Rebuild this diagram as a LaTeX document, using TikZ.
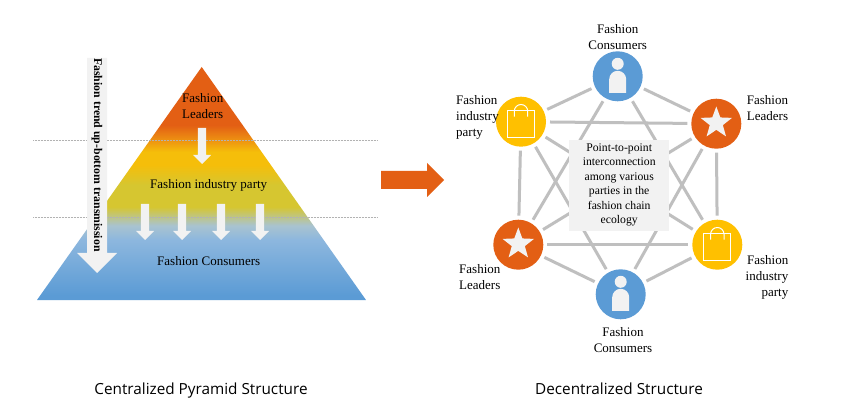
\documentclass[tikz,border=0pt]{standalone}
\usepackage{fontspec}
\setmainfont{Liberation Serif}
\newfontfamily\capfont{Open Sans}
\usetikzlibrary{shapes.geometric}
\definecolor{hub}{HTML}{E35F14}
\definecolor{gold}{HTML}{FFC000}
\definecolor{sky}{HTML}{5B9BD5}
\definecolor{pale}{HTML}{F2F2F2}
\definecolor{linkgray}{HTML}{BFBFBF}
\definecolor{fadeA}{HTML}{8DB7DE}
\definecolor{fadeB}{HTML}{A9C3CF}
\definecolor{fadeC}{HTML}{D6C630}
\definecolor{fadeD}{HTML}{F5BE0A}
\definecolor{fadeE}{HTML}{EC8A12}
\pgfdeclareverticalshading{pyramidfade}{100bp}{
 color(0bp)=(sky);
 color(26bp)=(sky);
 color(38bp)=(fadeA);
 color(41bp)=(fadeB);
 color(45bp)=(fadeC);
 color(49.7bp)=(fadeC);
 color(54bp)=(fadeD);
 color(56.8bp)=(fadeD);
 color(59.8bp)=(fadeE);
 color(62.5bp)=(hub);
 color(75bp)=(hub);
 color(100bp)=(hub)}
\newcommand{\downarrowpath}[6]{(#1-#4,#2) -- (#1+#4,#2) -- (#1+#4,#3) -- (#1+#5,#3) -- (#1,#6) -- (#1-#5,#3) -- (#1-#4,#3) -- cycle}
\tikzset{
 x=1pt,y=-1pt,
 every node/.style={font=\fontsize{13}{16}\selectfont,inner sep=0pt},
 hubnode/.style={circle,minimum size=50pt,inner sep=0pt},
 link/.style={draw=linkgray,line width=3pt,shorten <=29pt,shorten >=29pt},
 paler/.style={fill=pale,draw=none},
 guide/.style={draw=gray!60,line width=0.5pt,densely dotted},
 personicon/.pic={
  \fill[pale] (0,-12.5) circle (6);
  \fill[pale] (-8.5,16.5) -- (-8.5,3) arc[start angle=180,end angle=360,radius=8.5] -- (8.5,16.5) -- cycle;},
 bagicon/.pic={
  \draw[white,line width=1pt] (-13.5,-11) rectangle (13.5,15.5);
  \draw[white,line width=1pt] (-6.7,-5) -- (-6.7,-10.5) arc[start angle=180,end angle=360,radius=6.7] -- (6.7,-5);},
 staricon/.style={star,star points=5,star point ratio=2.4,minimum size=33pt,inner sep=0pt,fill=pale},
 captiontext/.style={font=\capfont\fontsize{15.3}{16}\selectfont,anchor=base}
}
\begin{document}
\begin{tikzpicture}
\useasboundingbox[fill=white] (0,0) rectangle (866,411);
% pyramid
\shade[shading=pyramidfade] (201.7,67) -- (366,300) -- (37,300) -- cycle;
\draw[guide] (33,140) -- (377,140);
\draw[guide] (33,217) -- (377,217);
% arrows on the pyramid
\fill[paler] \downarrowpath{97}{58}{253}{10}{20}{273};
\fill[paler] \downarrowpath{202}{128}{155}{4.2}{9}{164};
\fill[paler] \downarrowpath{145}{204}{231}{4.2}{9}{240};
\fill[paler] \downarrowpath{182}{204}{231}{4.2}{9}{240};
\fill[paler] \downarrowpath{221}{204}{231}{4.2}{9}{240};
\fill[paler] \downarrowpath{260}{204}{231}{4.2}{9}{240};
\node[rotate=-90,font=\fontsize{11.8}{16}\selectfont\bfseries] (trend) at (97,155) {Fashion trend up-bottom transmission};
\node[align=center] (pl) at (202.7,106) {Fashion\\Leaders};
\node (pi) at (208.7,185.5) {Fashion industry party};
\node (pc) at (208.7,261) {Fashion Consumers};
% central arrow
\fill[hub] (381,171) -- (427,171) -- (427,163) -- (444,180) -- (427,197) -- (427,189) -- (381,189) -- cycle;
% network
\node[hubnode] (top) at (617.7,76.3) {};
\node[hubnode] (lr) at (716.3,123.7) {};
\node[hubnode] (il) at (521,121.7) {};
\node[hubnode] (ll) at (518.3,244.7) {};
\node[hubnode] (ir) at (717.3,244.7) {};
\node[hubnode] (bot) at (620.7,294.3) {};
\foreach \a/\b in {top/lr,top/il,il/lr,il/ll,lr/ir,ll/ir,ll/bot,ir/bot,top/ll,top/ir,il/bot,lr/bot,il/ir,lr/ll}
  \draw[link] (\a.center) -- (\b.center);
\node[fill=pale,minimum width=99.7pt,minimum height=90.7pt] (box) at (619.2,185.4) {};
\node[align=center,font=\fontsize{11.7}{14.5}\selectfont] (boxtext) at (619.2,185) {Point-to-point\\interconnection\\among various\\parties in the\\fashion chain\\ecology};
\node[hubnode,fill=sky] at (top) {};
\node[hubnode,fill=sky] at (bot) {};
\node[hubnode,fill=hub] at (lr) {};
\node[hubnode,fill=hub] at (ll) {};
\node[hubnode,fill=gold] at (il) {};
\node[hubnode,fill=gold] at (ir) {};
\pic at (top) {personicon};
\pic at (bot) {personicon};
\pic at (il) {bagicon};
\pic at (ir) {bagicon};
\node[staricon] (s1) at (716.3,123) {};
\node[staricon] (s2) at (518.3,244) {};
% labels
\node[align=center] (t1) at (617.7,37) {Fashion\\Consumers};
\node[align=center] (t2) at (623,340) {Fashion\\Consumers};
\node[align=left,anchor=west] (t3) at (456,117) {Fashion\\industry\\party};
\node[align=right,anchor=east] (t4) at (788.5,277) {Fashion\\industry\\party};
\node[align=left,anchor=west] (t5) at (746.7,108) {Fashion\\Leaders};
\node[align=left,anchor=west] (t6) at (459,277) {Fashion\\Leaders};
% captions
\node[captiontext] (c1) at (201,394) {Centralized Pyramid Structure};
\node[captiontext] (c2) at (619,394) {Decentralized Structure};
\end{tikzpicture}
\end{document}
